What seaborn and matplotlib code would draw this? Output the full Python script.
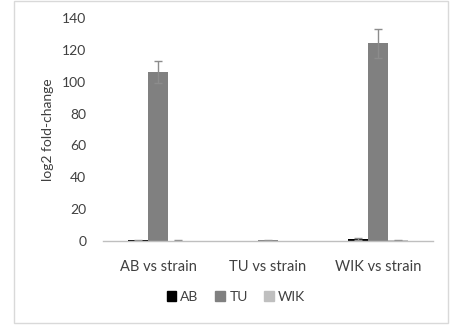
import matplotlib
matplotlib.use("Agg")
import matplotlib.pyplot as plt
import seaborn as sns
import pandas as pd
from matplotlib.patches import Rectangle

categories = ["AB vs strain", "TU vs strain", "WIK vs strain"]
strains = ["AB", "TU", "WIK"]
values = {
    "AB": [0.5, 0.0, 1.2],
    "TU": [106.0, 0.6, 124.0],
    "WIK": [0.3, 0.0, 0.5],
}
errors = {
    "AB": [0.3, 0.0, 0.5],
    "TU": [7.0, 0.3, 9.0],
    "WIK": [0.2, 0.0, 0.3],
}
colors = {"AB": "#000000", "TU": "#808080", "WIK": "#bfbfbf"}
yticks = [0, 20, 40, 60, 80, 100, 120, 140]

rows = []
for s in strains:
    for c, v, e in zip(categories, values[s], errors[s]):
        rows.append({"category": c, "strain": s, "value": v, "err": e})
df = pd.DataFrame(rows)

sns.set_theme(style="white")
plt.rcParams["font.family"] = ["Lato", "DejaVu Sans"]

fig = plt.figure(figsize=(4.51, 3.25), dpi=100)
ax = fig.add_axes([103 / 451, (325 - 241) / 325, (433 - 103) / 451, (241 - 18) / 325])

sns.barplot(data=df, x="category", y="value", hue="strain", hue_order=strains,
            order=categories, palette=colors, width=0.54, errorbar=None,
            saturation=1, ax=ax, legend=False, linewidth=0)

# error bars on each bar, positioned from the library's bars
for container, s in zip(ax.containers, strains):
    for patch, e in zip(container.patches, errors[s]):
        if e <= 0:
            continue
        xc = patch.get_x() + patch.get_width() / 2
        h = patch.get_height()
        ax.errorbar(xc, h, yerr=e, fmt="none", ecolor="#8c8c8c",
                    elinewidth=1, capsize=3, capthick=1)

ax.set_xlim(-0.5, 2.5)
ax.set_ylim(0, 140)
ax.set_yticks(yticks)
ax.set_yticklabels([str(t) for t in yticks], fontsize=10, color="#404040")
ax.tick_params(axis="x", labelsize=10.5, colors="#404040", length=0, pad=14)
ax.tick_params(axis="y", length=0, pad=12)
ax.set_xlabel("")
ax.set_ylabel("log2 fold-change", fontsize=10, color="#404040", labelpad=6)
for side in ["top", "right", "left"]:
    ax.spines[side].set_visible(False)
ax.spines["bottom"].set_color("#bfbfbf")
ax.spines["bottom"].set_linewidth(1)

handles = [Rectangle((0, 0), 1, 1, color=colors[s]) for s in strains]
fig.legend(handles, strains, loc="center", bbox_to_anchor=(236 / 451, 1 - 297 / 325),
           ncol=3, frameon=False, fontsize=10, handlelength=0.7, handleheight=0.7,
           handletextpad=0.3, columnspacing=1.2, labelcolor="#404040")

fig.patches.append(Rectangle((13.5 / 451, 2.5 / 325), (448 - 13.5) / 451, (324 - 2.5) / 325,
                             transform=fig.transFigure, fill=False,
                             edgecolor="#d9d9d9", linewidth=1))

fig.savefig("out.png", dpi=100)
